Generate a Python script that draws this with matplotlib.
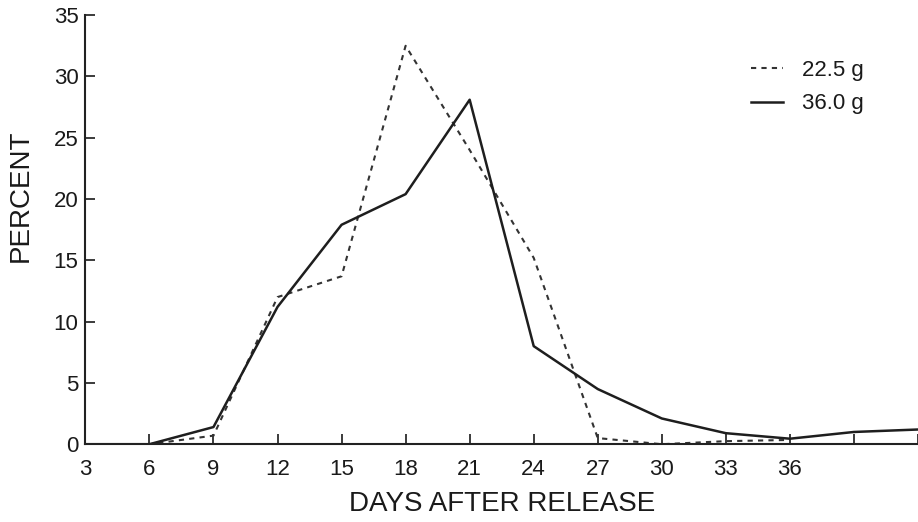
import numpy as np
import matplotlib.pyplot as plt

plt.rcParams['font.family'] = ['Liberation Sans', 'DejaVu Sans']

# Dni po wypuszczeniu
days = [3, 6, 9, 12, 15, 18, 21, 24, 27, 30, 33, 36, 39, 42]

# Procent dla dwóch mas
pct_225 = [0, 0, 0.7, 12.0, 13.7, 32.5, 24.0, 15.2, 0.5, 0.0, 0.25, 0.35]
pct_360 = [0, 0, 1.4, 11.2, 17.9, 20.4, 28.1, 8.0, 4.5, 2.1, 0.9, 0.45, 1.0, 1.2]

labels = ['22.5 g', '36.0 g']
xtick_labels = ['3', '6', '9', '12', '15', '18', '21', '24', '27', '30', '33', '36', '', '']
yticks = [0, 5, 10, 15, 20, 25, 30, 35]

fig = plt.figure(figsize=(9.18, 5.22), dpi=100)
ax = fig.add_axes([0.093, 0.149, 0.907, 0.822])

ax.plot(days[:len(pct_225)], pct_225, linestyle=(0, (2.5, 2.5)), color='#333333',
        linewidth=1.5, label=labels[0])
ax.plot(days, pct_360, color='#1e1e1e', linewidth=1.8, label=labels[1])

ax.set_xlim(3, 42)
ax.set_ylim(0, 35)
ax.set_xticks(days)
ax.set_xticklabels(xtick_labels)
ax.set_yticks(yticks)

for s in ['top', 'right']:
    ax.spines[s].set_visible(False)
for s in ['left', 'bottom']:
    ax.spines[s].set_linewidth(1.5)
    ax.spines[s].set_color('#222222')

ax.tick_params(direction='in', length=7, width=1.2, labelsize=16, colors='#1a1a1a')
ax.tick_params(axis='x', pad=11)
ax.tick_params(axis='y', pad=5)

ax.set_xlabel('DAYS AFTER RELEASE', fontsize=20, color='#1a1a1a')
ax.xaxis.set_label_coords(0.5, -0.11)
ax.set_ylabel('PERCENT', fontsize=20, color='#1a1a1a')
ax.yaxis.set_label_coords(-0.062, 0.58)

ax.legend(loc='upper left', bbox_to_anchor=(0.7995, 0.895), frameon=False, fontsize=16,
          handlelength=1.45, labelspacing=0.55, handletextpad=0.85,
          borderpad=0, borderaxespad=0, labelcolor='#1a1a1a')

plt.savefig('out.png', dpi=100)
